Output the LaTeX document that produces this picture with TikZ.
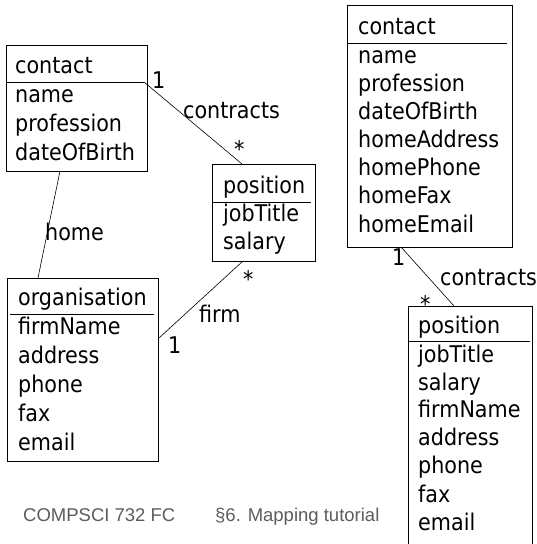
\documentclass[tikz,border=0pt]{standalone}
\usepackage{fontspec}
\setmainfont{DejaVu Sans Condensed}
\newfontfamily\footfont{Liberation Sans}
\definecolor{footgray}{HTML}{5F5B57}
\begin{document}
\begin{tikzpicture}[x=1pt,y=-1pt,
  box/.style={draw, line width=0.8pt, inner sep=0pt, anchor=north west},
  conn/.style={line width=0.6pt},
  divider/.style={line width=0.8pt},
  txt/.style={anchor=base west, inner sep=0pt, font=\fontsize{23}{28}\selectfont},
  foot/.style={anchor=base west, inner sep=0pt, text=footgray, font=\footfont\fontsize{18.5}{22}\selectfont}]
\useasboundingbox (0,0) rectangle (537,544);

% left contact
\node[box, minimum width=141pt, minimum height=126pt] (c1) at (6,45) {};
\draw[divider] (6,82) -- (144,82);
\node[txt] (c1t) at (15,73) {contact};
\node[txt] (c1a) at (15,102) {name};
\node[txt] (c1b) at (15,131) {profession};
\node[txt] (c1c) at (15,160) {dateOfBirth};

% left position
\node[box, minimum width=103pt, minimum height=97pt] (p1) at (212,164) {};
\draw[divider] (212,202) -- (311,202);
\node[txt] (p1t) at (223,193) {position};
\node[txt] (p1a) at (223,221) {jobTitle};
\node[txt] (p1b) at (223,249) {salary};

% organisation
\node[box, minimum width=151pt, minimum height=183pt] (o1) at (7,278) {};
\draw[divider] (10,314) -- (154,314);
\node[txt] (o1t) at (18,305) {organisation};
\node[txt] (o1a) at (18,334) {firmName};
\node[txt] (o1b) at (18,363) {address};
\node[txt] (o1c) at (18,392) {phone};
\node[txt] (o1d) at (18,421) {fax};
\node[txt] (o1e) at (18,450) {email};

% right contact
\node[box, minimum width=165pt, minimum height=242pt] (c2) at (347,5) {};
\draw[divider] (347,43) -- (507,43);
\node[txt] (c2t) at (358,34) {contact};
\node[txt] (c2a) at (358,63) {name};
\node[txt] (c2b) at (358,91) {profession};
\node[txt] (c2c) at (358,119) {dateOfBirth};
\node[txt] (c2d) at (358,147) {homeAddress};
\node[txt] (c2e) at (358,175) {homePhone};
\node[txt] (c2f) at (358,203) {homeFax};
\node[txt] (c2g) at (358,232) {homeEmail};

% right position (open at the bottom edge)
\node[inner sep=0pt, anchor=north west, minimum width=124pt, minimum height=238pt] (p2) at (408,306) {};
\draw[line width=0.8pt] (p2.south west) -- (p2.north west) -- (p2.north east) -- (p2.south east);
\draw[divider] (408,341) -- (530,341);
\node[txt] (p2t) at (418,333) {position};
\node[txt] (p2a) at (418,362) {jobTitle};
\node[txt] (p2b) at (418,390) {salary};
\node[txt] (p2c) at (418,417) {firmName};
\node[txt] (p2d) at (418,445) {address};
\node[txt] (p2e) at (418,473) {phone};
\node[txt] (p2f) at (418,502) {fax};
\node[txt] (p2g) at (418,530) {email};

% connector end points
\coordinate (ca1) at (144,82);
\coordinate (ca2) at (242,164);
\coordinate (ha1) at (60,171);
\coordinate (ha2) at (38,278);
\coordinate (fa1) at (243,261);
\coordinate (fa2) at (159,338);
\coordinate (cb1) at (401,247);
\coordinate (cb2) at (454,306);

\draw[conn] (ca1) -- (ca2);
\draw[conn] (ha1) -- (ha2);
\draw[conn] (fa1) -- (fa2);
\draw[conn] (cb1) -- (cb2);

% labels
\node[txt] (l1) at (152,88) {1};
\node[txt] (l2) at (183,118) {contracts};
\node[txt] (l3) at (234,157) {*};
\node[txt] (l4) at (45,240) {home};
\node[txt] (l5) at (243,287) {*};
\node[txt] (l6) at (199,322) {firm};
\node[txt] (l7) at (168,353) {1};
\node[txt] (l8) at (392,265) {1};
\node[txt] (l9) at (440,285) {contracts};
\node[txt] (l10) at (420,312) {*};

% footer
\node[foot] (f1) at (23,521) {COMPSCI 732 FC};
\node[foot] (f2) at (215,521) {§6. Mapping tutorial};
\end{tikzpicture}
\end{document}
